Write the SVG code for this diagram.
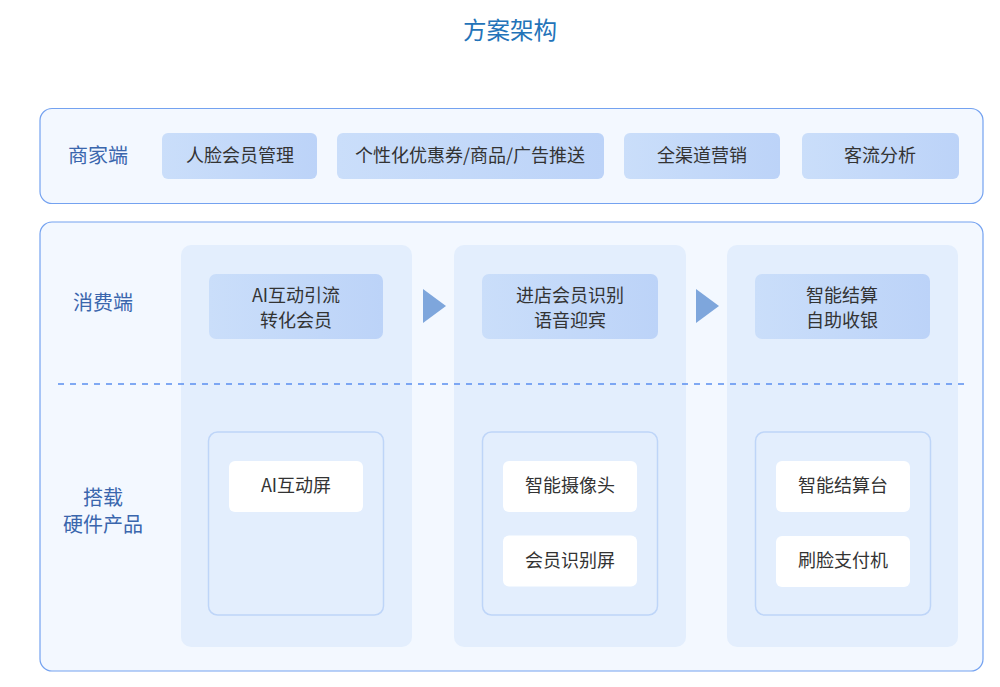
<svg xmlns="http://www.w3.org/2000/svg" width="1000" height="687" viewBox="0 0 1000 687">
<defs>
<linearGradient id="g" x1="0" y1="0" x2="1" y2="0"><stop offset="0" stop-color="#cadefa"/><stop offset="1" stop-color="#bcd3f8"/></linearGradient>
<style>
text{font-family:"Noto Sans CJK SC","Noto Sans",sans-serif;text-anchor:middle;dominant-baseline:central}
.panel{fill:#f3f8ff;stroke:#74a2f0;stroke-width:1.2}
.blue{fill:url(#g)}
.col{fill:#e3eefd}
.hw{fill:#e3eefd;stroke:#bed5f8;stroke-width:1.5}
.white{fill:#ffffff}
.t{font-size:18px;fill:#333333}
.lab{font-size:20px;fill:#3a66ad}
.arrow{fill:#7ea6dc}
</style>
</defs>
<rect width="1000" height="687" fill="#ffffff"/>
<text x="510" y="29" style="font-size:23.5px;fill:#2373b9">方案架构</text>

<g id="merchant">
<rect class="panel" x="40" y="108.5" width="943" height="95" rx="12"/>
<text class="lab" x="98" y="154">商家端</text>
<g id="m1"><rect class="blue" x="162" y="133" width="155" height="46" rx="6"/><text class="t" x="240" y="154">人脸会员管理</text></g>
<g id="m2"><rect class="blue" x="337" y="133" width="267" height="46" rx="6"/><text class="t" x="470" y="154">个性化优惠券/商品/广告推送</text></g>
<g id="m3"><rect class="blue" x="624" y="133" width="156" height="46" rx="6"/><text class="t" x="702" y="154">全渠道营销</text></g>
<g id="m4"><rect class="blue" x="802" y="133" width="157" height="46" rx="6"/><text class="t" x="880" y="154">客流分析</text></g>
</g>

<g id="consumer">
<rect class="panel" x="40" y="222" width="943" height="449" rx="12"/>
<text class="lab" x="103" y="301">消费端</text>
<text class="lab" x="103" y="496">搭载</text>
<text class="lab" x="103" y="523">硬件产品</text>
<rect class="col" x="181" y="245" width="231" height="402" rx="10"/>
<rect class="col" x="454" y="245" width="232" height="402" rx="10"/>
<rect class="col" x="727" y="245" width="231" height="402" rx="10"/>
</g>

<g id="c1"><rect class="blue" x="209" y="274" width="174" height="65" rx="7"/><text class="t" x="296" y="293.5">AI互动引流</text><text class="t" x="296" y="318.5">转化会员</text></g>
<g id="c2"><rect class="blue" x="482" y="274" width="176" height="65" rx="7"/><text class="t" x="570" y="293.5">进店会员识别</text><text class="t" x="570" y="318.5">语音迎宾</text></g>
<g id="c3"><rect class="blue" x="755" y="274" width="175" height="65" rx="7"/><text class="t" x="842" y="293.5">智能结算</text><text class="t" x="842" y="318.5">自助收银</text></g>

<g id="h1"><rect class="hw" x="208.5" y="432" width="175" height="183" rx="9"/>
<g id="h1a"><rect class="white" x="229" y="461" width="134" height="51" rx="6"/><text class="t" x="296" y="484">AI互动屏</text></g></g>
<g id="h2"><rect class="hw" x="482.5" y="432" width="175" height="183" rx="9"/>
<g id="h2a"><rect class="white" x="503" y="461" width="134" height="51" rx="6"/><text class="t" x="570" y="484">智能摄像头</text></g>
<g id="h2b"><rect class="white" x="503" y="535.5" width="134" height="51" rx="6"/><text class="t" x="570" y="558.5">会员识别屏</text></g></g>
<g id="h3"><rect class="hw" x="755.5" y="432" width="175" height="183" rx="9"/>
<g id="h3a"><rect class="white" x="776" y="461" width="134" height="51" rx="6"/><text class="t" x="843" y="484">智能结算台</text></g>
<g id="h3b"><rect class="white" x="776" y="536" width="134" height="51" rx="6"/><text class="t" x="843" y="559">刷脸支付机</text></g></g>

<g id="connectors">
<line x1="58" y1="384" x2="968" y2="384" stroke="#5b8ef0" stroke-width="1.5" stroke-dasharray="6,6"/>
<polygon class="arrow" points="423,289 446,306 423,323"/>
<polygon class="arrow" points="696,289 719,306 696,323"/>
</g>
</svg>
